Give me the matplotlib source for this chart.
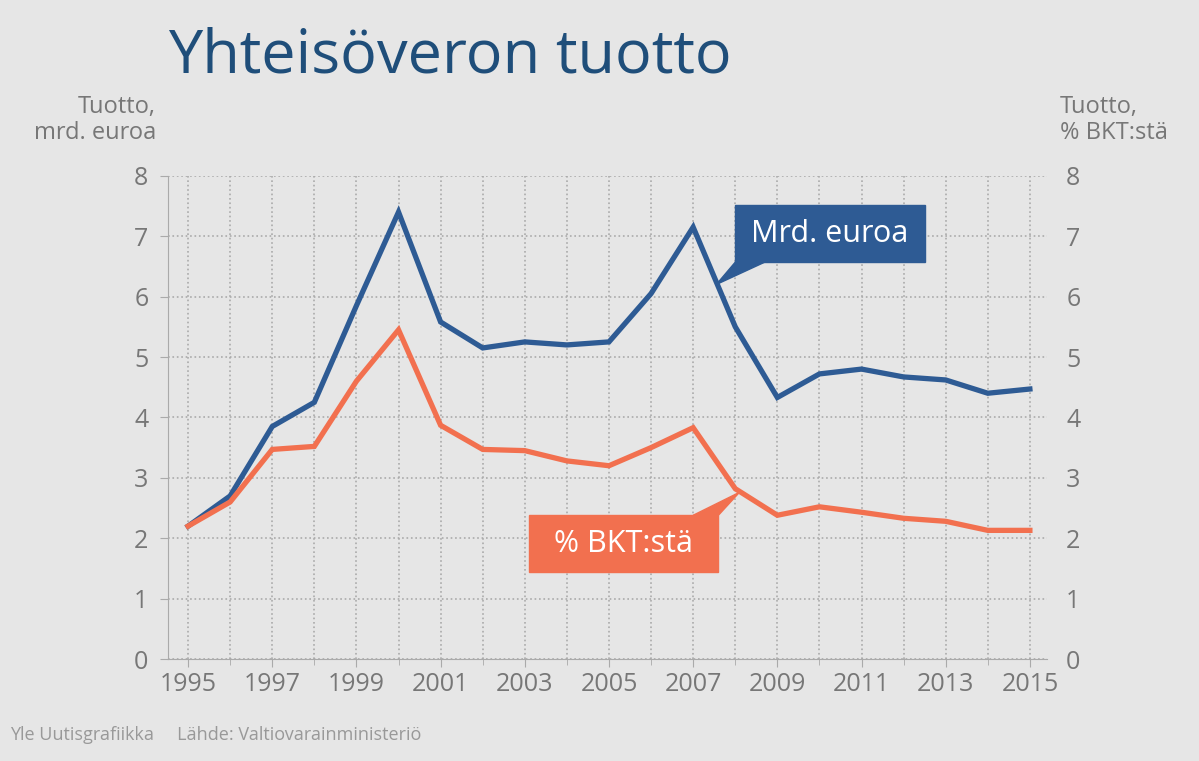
import matplotlib.pyplot as plt
from matplotlib.patches import Polygon, Rectangle

years = list(range(1995, 2016))
mrd_euroa = [2.2, 2.7, 3.85, 4.25, 5.85, 7.4, 5.58, 5.15, 5.25, 5.2, 5.25,
             6.05, 7.15, 5.5, 4.33, 4.72, 4.8, 4.67, 4.62, 4.4, 4.47]
pct_bkt = [2.2, 2.6, 3.47, 3.52, 4.6, 5.45, 3.87, 3.47, 3.45, 3.28, 3.2,
           3.5, 3.83, 2.82, 2.38, 2.52, 2.43, 2.33, 2.28, 2.13, 2.13]
xticks = list(range(1995, 2016, 2))
yticks = list(range(0, 9))

bg = "#e6e6e6"
blue = "#2e5b94"
orange = "#f2704f"
gray = "#777777"
plt.rcParams["font.family"] = "Open Sans"

fig = plt.figure(figsize=(11.99, 7.61), dpi=100, facecolor=bg)
ax = fig.add_axes([0.140, 0.134, 0.733, 0.635], facecolor=bg)

ax.plot(years, mrd_euroa, color=blue, lw=3.8, solid_joinstyle="miter", zorder=3)
ax.plot(years, pct_bkt, color=orange, lw=3.8, solid_joinstyle="miter", zorder=3)

ax.set_xlim(1994.52, 2015.4)
ax.set_ylim(0, 8)
ax.set_xticks(years, minor=True)
ax.set_xticks(xticks)
ax.set_yticks(yticks)
ax.grid(True, which="both", axis="x", color="#aaaaaa", ls=":", lw=1.2)
ax.grid(True, axis="y", color="#aaaaaa", ls=":", lw=1.2)
for s in ["top", "right"]:
    ax.spines[s].set_visible(False)
ax.spines["left"].set_color("#aaaaaa")
ax.spines["bottom"].set_color("#aaaaaa")
ax.tick_params(axis="both", which="both", colors="#aaaaaa", labelcolor=gray,
               labelsize=18, length=6)
ax.tick_params(axis="x", which="minor", length=4)
ax.tick_params(axis="y", labelright=True, right=False, pad=8)

# callout labels: box + pointer
ax.add_patch(Rectangle((2008.0, 6.57), 4.5, 0.95, color=blue, zorder=4))
ax.add_patch(Polygon([(2008.0, 6.57), (2008.7, 6.57), (2007.55, 6.2)],
                     closed=True, color=blue, zorder=4))
ax.text(2010.25, 7.04, "Mrd. euroa", color="white", fontsize=22, ha="center",
        va="center", zorder=5)
ax.add_patch(Rectangle((2003.1, 1.44), 4.5, 0.94, color=orange, zorder=4))
ax.add_patch(Polygon([(2007.0, 2.38), (2007.6, 2.38), (2008.1, 2.76)],
                     closed=True, color=orange, zorder=4))
ax.text(2005.35, 1.91, "% BKT:stä", color="white", fontsize=22, ha="center",
        va="center", zorder=5)

fig.text(0.14, 0.905, "Yhteisöveron tuotto", color="#1f4e7a", fontsize=44,
         ha="left", va="baseline")
fig.text(0.13, 0.81, "Tuotto,\nmrd. euroa", color=gray, fontsize=17,
         ha="right", va="bottom", multialignment="right", linespacing=1.1)
fig.text(0.884, 0.81, "Tuotto,\n% BKT:stä", color=gray, fontsize=17,
         ha="left", va="bottom", linespacing=1.1)
fig.text(0.008, 0.022, "Yle Uutisgrafiikka     Lähde: Valtiovarainministeriö",
         color="#999999", fontsize=13, ha="left", va="bottom")

fig.savefig("out.png", dpi=100, facecolor=bg)
